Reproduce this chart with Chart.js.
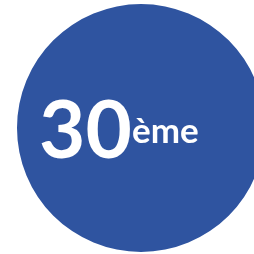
<!DOCTYPE html>
<html>
<head>
<meta charset="utf-8">
<script src="https://cdn.jsdelivr.net/npm/chart.js@4"></script>
<style>
  html, body { margin: 0; padding: 0; background: #ffffff; overflow: hidden; width: 254px; height: 254px; }
  #wrap { position: absolute; left: 0; top: 0; width: 282px; height: 254px; }
</style>
</head>
<body>
<div id="wrap"><canvas id="c"></canvas></div>
<script>
const categories = ['Rang'];
const values = [30];
const rankNumber = '30';
const rankSuffix = 'ème';
const sliceColors = ['#2F54A0'];

const rankText = {
  id: 'rankText',
  afterDraw(chart) {
    const ctx = chart.ctx;
    ctx.save();
    ctx.fillStyle = '#ffffff';
    ctx.textBaseline = 'alphabetic';
    ctx.textAlign = 'left';
    ctx.font = 'bold 80px Lato';
    ctx.fillText(rankNumber, 39, 158);
    ctx.font = 'bold 35px Lato';
    ctx.fillText(rankSuffix, 132, 143);
    ctx.restore();
  }
};

new Chart(document.getElementById('c'), {
  type: 'pie',
  data: {
    labels: categories,
    datasets: [{ data: values, backgroundColor: sliceColors, borderWidth: 0 }]
  },
  options: {
    responsive: true,
    maintainAspectRatio: false,
    animation: false,
    layout: { padding: { top: 4, bottom: 2, left: 17, right: 17 } },
    plugins: { legend: { display: false }, tooltip: { enabled: false } }
  },
  plugins: [rankText]
});
</script>
</body>
</html>
